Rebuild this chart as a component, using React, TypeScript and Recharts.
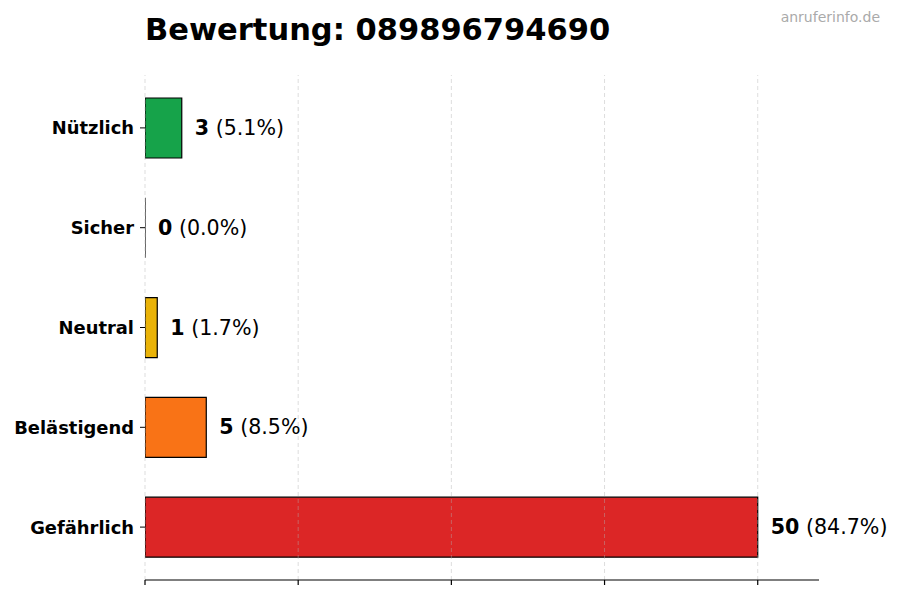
import React from 'react';
import { BarChart, Bar, XAxis, YAxis, ReferenceLine, LabelList, Cell } from 'recharts';

const categories = ['Nützlich', 'Sicher', 'Neutral', 'Belästigend', 'Gefährlich'];
const counts = [3, 0, 1, 5, 50];
const percents = ['5.1%', '0.0%', '1.7%', '8.5%', '84.7%'];
const colors = ['#16a34a', '#6b7280', '#eab308', '#f97316', '#dc2626'];
const xTicks = [0, 12.5, 25, 37.5, 50];

const data = categories.map((name, i) => ({ name, value: counts[i], pct: percents[i], color: colors[i] }));

const FONT = 'DejaVu Sans';

const BarShape = (props: any) => {
  const { x, y, width, height, fill } = props;
  const w = Math.max(0, width || 0);
  const d = `M${x},${y} h${w} v${height} h${-w} Z`;
  return <path d={d} fill={fill} stroke="#000" strokeWidth={1.2} />;
};

const ValueLabel = (props: any) => {
  const { x, y, width, height, index } = props;
  const d = data[index];
  return (
    <text x={x + (width || 0) + 13} y={y + height / 2} dominantBaseline="central" fontFamily={FONT} fontSize={20.6} fill="#000">
      <tspan fontWeight="bold">{d.value}</tspan>
      <tspan> ({d.pct})</tspan>
    </text>
  );
};

const YTick = (props: any) => {
  const { x, y, payload } = props;
  return (
    <text x={x} y={y} textAnchor="end" dominantBaseline="central" fontFamily={FONT} fontSize={17.9} fontWeight="bold" fill="#000">
      {payload.value}
    </text>
  );
};

export default function App() {
  return (
    <div style={{ position: 'fixed', left: 0, top: 0, width: 900, height: 600, background: '#fff' }}>
      <svg width={900} height={70} style={{ position: 'absolute', left: 0, top: 0 }}>
        <text x={145} y={40} fontFamily={FONT} fontWeight="bold" fontSize={30.5} fill="#000">Bewertung: 089896794690</text>
        <text x={880} y={22} textAnchor="end" fontFamily={FONT} fontSize={14} fill="#aaaaaa">anruferinfo.de</text>
      </svg>
      <div style={{ position: 'absolute', left: 0, top: 0 }}>
        <BarChart
          width={900}
          height={600}
          data={data}
          layout="vertical"
          margin={{ top: 75, right: 81, bottom: 0, left: 0 }}
          barCategoryGap={0}
        >
          <XAxis
            type="number"
            domain={[0, 55]}
            ticks={xTicks}
            tickFormatter={() => ''}
            height={20}
            tickSize={5}
            axisLine={{ stroke: '#000', strokeWidth: 1.2 }}
            tickLine={{ stroke: '#000', strokeWidth: 1.2 }}
            allowDataOverflow
          />
          <YAxis
            type="category"
            dataKey="name"
            width={145}
            axisLine={false}
            tickSize={5}
            tickMargin={6}
            tickLine={{ stroke: '#000', strokeWidth: 1 }}
            tick={<YTick />}
            padding={{ top: 3, bottom: 3 }}
            interval={0}
          />
          <Bar dataKey="value" barSize={60} isAnimationActive={false} shape={<BarShape />}>
            {data.map((d, i) => (
              <Cell key={i} fill={d.color} />
            ))}
            <LabelList dataKey="value" content={<ValueLabel />} />
          </Bar>
          {xTicks.map((t) => (
            <ReferenceLine key={t} x={t} stroke="#b0b0b0" strokeOpacity={0.55} strokeDasharray="4 3" strokeWidth={0.8} />
          ))}
        </BarChart>
      </div>
    </div>
  );
}
